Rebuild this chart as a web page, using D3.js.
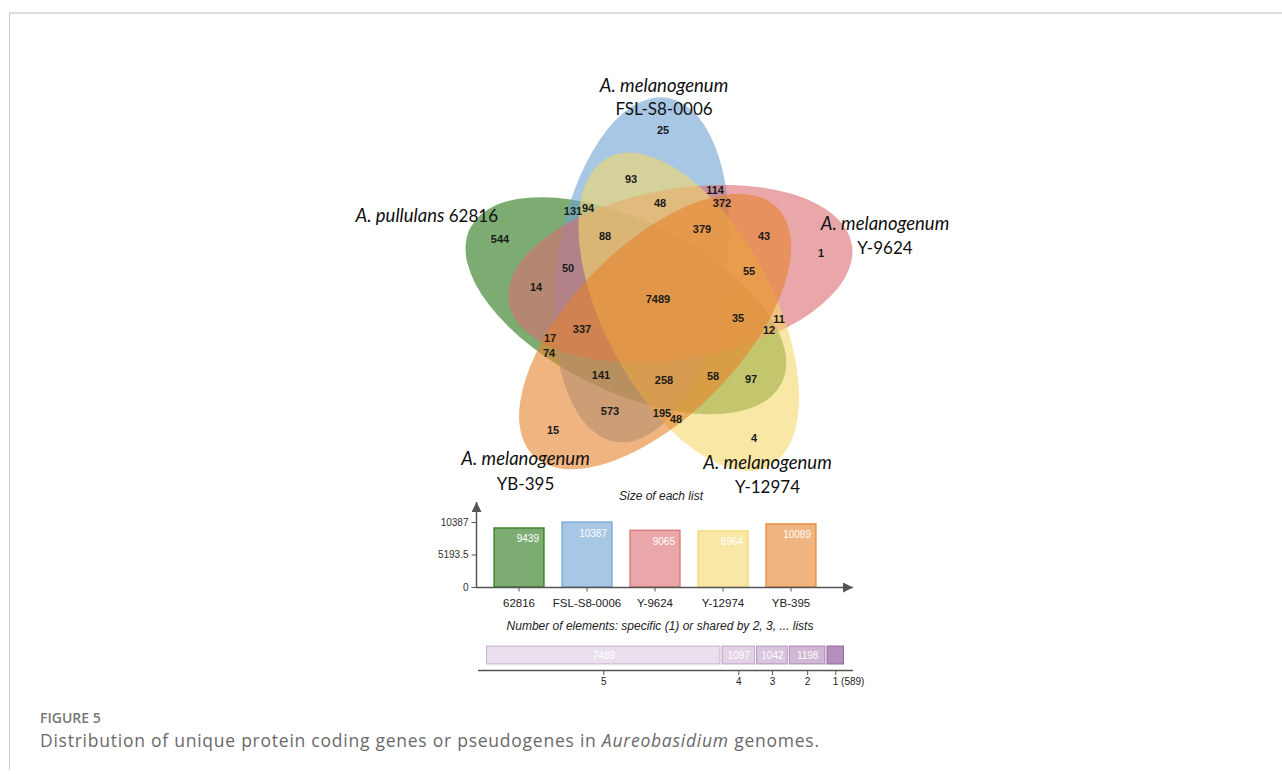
<!DOCTYPE html>
<html><head><meta charset="utf-8">
<script src="https://cdn.jsdelivr.net/npm/d3@7"></script>
<style>body{margin:0;background:#fff;}svg{display:block;}</style></head><body>
<svg id="chart" width="1282" height="774"></svg>
<script>
// ---- data ----
const setNames = ["62816", "FSL-S8-0006", "Y-9624", "Y-12974", "YB-395"];
const setSpecies = ["A. pullulans", "A. melanogenum", "A. melanogenum", "A. melanogenum", "A. melanogenum"];
const listSizes = [9439, 10387, 9065, 8964, 10089];
// membership code per region: one digit per list, in setNames order
const regionSets = ["10000","01000","00100","00010","00001",
  "11000","01100","00110","00011","10001","10100","01010","00101","10010","01001",
  "11100","01110","00111","10011","11001","11010","01101","10110","01011","10101",
  "11110","01111","10111","11011","11101","11111"];
const regionCounts = [544, 25, 1, 4, 15,
  131, 114, 11, 48, 74, 14, 93, 43, 97, 573,
  50, 48, 55, 58, 141, 94, 372, 12, 195, 17,
  88, 379, 35, 258, 337, 7489];
const sharedLevels = ["5", "4", "3", "2", "1"];
const sharedCounts = [7489, 1097, 1042, 1198, 589];

// ---- styles / layout ----
const colors = ["rgb(38,117,22)", "rgb(110,162,210)", "rgb(218,108,113)", "rgb(243,215,105)", "rgb(230,130,43)"];
const purple = "rgb(150,95,160)";
const levelOpacity = [0.2, 0.28, 0.36, 0.45, 0.7];
const venn = {cx: 658.3, cy: 298.5, a: 174, b: 85, rot0: 26.4, off: 33.2, offAng: 167.5, fill: 0.6};
const titleLayout = [
  {x: 498, y: [222], anchor: "end", oneLine: true},
  {x: 664, y: [92, 115], anchor: "middle"},
  {x: 885, y: [230, 254], anchor: "middle"},
  {x: 767.5, y: [469, 493], anchor: "middle"},
  {x: 525.5, y: [465, 490], anchor: "middle"}
];
const sans = "'Liberation Sans', Arial, sans-serif";

const svg = d3.select("#chart");
const deg = Math.PI / 180;

// page frame
svg.append("rect").attr("x", 9).attr("y", 12).attr("width", 1273).attr("height", 2).attr("fill", "#dedede");
svg.append("rect").attr("x", 9).attr("y", 13).attr("width", 1).attr("height", 757).attr("fill", "#cfcfcf");

// ---- five-ellipse Venn ----
const ellipses = setNames.map((name, k) => {
  const th = venn.rot0 + 72 * k, ph = (venn.offAng + 72 * k) * deg;
  return {k, name, th, cx: venn.cx + venn.off * Math.cos(ph), cy: venn.cy + venn.off * Math.sin(ph)};
});
svg.append("g").selectAll("ellipse").data(ellipses).join("ellipse")
  .attr("rx", venn.a).attr("ry", venn.b)
  .attr("transform", d => `translate(${d.cx},${d.cy}) rotate(${d.th})`)
  .attr("fill", (d, i) => colors[i]).attr("fill-opacity", venn.fill);

function inside(e, x, y) {
  const dx = x - e.cx, dy = y - e.cy, t = e.th * deg;
  const u = dx * Math.cos(t) + dy * Math.sin(t), v = -dx * Math.sin(t) + dy * Math.cos(t);
  return (u / venn.a) ** 2 + (v / venn.b) ** 2 <= 1;
}

// label spot for each region: rasterise the diagram, run a distance transform,
// then take the well-inset point closest to the region's centroid
const X0 = 430, Y0 = 70, GW = 460, GH = 420;
const lab = new Int32Array(GW * GH);
for (let j = 0; j < GH; j++) for (let i = 0; i < GW; i++) {
  let m = 0;
  ellipses.forEach((e, k) => { if (inside(e, X0 + i, Y0 + j)) m |= 1 << k; });
  lab[j * GW + i] = m;
}
const dist = new Float32Array(GW * GH).fill(1e9);
for (let j = 0; j < GH; j++) for (let i = 0; i < GW; i++) {
  const p = j * GW + i, l = lab[p];
  if (i == 0 || j == 0 || i == GW - 1 || j == GH - 1 || lab[p - 1] != l || lab[p + 1] != l || lab[p - GW] != l || lab[p + GW] != l) dist[p] = 0;
}
const s2 = Math.SQRT2;
for (let j = 1; j < GH; j++) for (let i = 1; i < GW - 1; i++) { const p = j * GW + i; dist[p] = Math.min(dist[p], dist[p - 1] + 1, dist[p - GW] + 1, dist[p - GW - 1] + s2, dist[p - GW + 1] + s2); }
for (let j = GH - 2; j >= 0; j--) for (let i = GW - 2; i > 0; i--) { const p = j * GW + i; dist[p] = Math.min(dist[p], dist[p + 1] + 1, dist[p + GW] + 1, dist[p + GW + 1] + s2, dist[p + GW - 1] + s2); }
const stats = {};
for (let p = 0; p < GW * GH; p++) {
  const l = lab[p]; if (!l) continue;
  const s = stats[l] || (stats[l] = {n: 0, sx: 0, sy: 0, maxD: 0});
  s.n++; s.sx += X0 + p % GW; s.sy += Y0 + Math.floor(p / GW);
  if (dist[p] > s.maxD) s.maxD = dist[p];
}
const spot = {};
for (let p = 0; p < GW * GH; p++) {
  const l = lab[p]; if (!l) continue;
  const s = stats[l], x = X0 + p % GW, y = Y0 + Math.floor(p / GW);
  const inset = s.maxD > 28 ? 0.97 : 0.5;   // wide regions: stay at the deepest point
  if (dist[p] < inset * s.maxD) continue;
  const d2 = (x - s.sx / s.n) ** 2 + (y - s.sy / s.n) ** 2;
  if (!spot[l] || d2 < spot[l].d2) spot[l] = {x, y, d2};
}
const regions = regionSets.map((code, i) => {
  let bits = 0; for (let k = 0; k < 5; k++) if (code[k] == "1") bits |= 1 << k;
  return {code, value: regionCounts[i], x: spot[bits].x, y: spot[bits].y};
});
svg.append("g").selectAll("text").data(regions).join("text")
  .attr("x", d => d.x).attr("y", d => d.y + 4).attr("text-anchor", "middle")
  .style("font", `bold 11px ${sans}`).attr("fill", "#1a1a1a")
  .text(d => d.value);

// list titles
const titles = svg.append("g").style("font-family", "Lato, sans-serif").style("font-size", "17px").attr("fill", "#111");
titleLayout.forEach((t, k) => {
  if (t.oneLine) {
    const tx = titles.append("text").attr("x", t.x).attr("y", t.y[0]).attr("text-anchor", t.anchor);
    tx.append("tspan").style("font-style", "italic").style("font-size", "18.5px").text(setSpecies[k]);
    tx.append("tspan").text(" " + setNames[k]);
  } else {
    titles.append("text").attr("x", t.x).attr("y", t.y[0]).attr("text-anchor", t.anchor)
      .style("font-style", "italic").style("font-size", "18.5px").text(setSpecies[k]);
    titles.append("text").attr("x", t.x).attr("y", t.y[1]).attr("text-anchor", t.anchor).text(setNames[k]);
  }
});

// ---- size of each list ----
const axisColor = "#555";
svg.append("defs").append("marker").attr("id", "arrow").attr("viewBox", "0 0 10 10").attr("refX", 10).attr("refY", 5)
  .attr("markerWidth", 10).attr("markerHeight", 10).attr("markerUnits", "userSpaceOnUse").attr("orient", "auto")
  .append("path").attr("d", "M0,0L10,5L0,10Z").attr("fill", axisColor);

const x = d3.scaleBand().domain(setNames).range([476, 834]).paddingInner(0.265).paddingOuter(0.265);
const yMax = d3.max(listSizes);
const y = d3.scaleLinear().domain([0, yMax]).range([587, 522]);
const bars = svg.append("g");
bars.append("text").attr("x", 661).attr("y", 500).attr("text-anchor", "middle")
  .style("font", `italic 12px ${sans}`).attr("fill", "#222").text("Size of each list");
bars.selectAll("rect").data(setNames).join("rect")
  .attr("x", d => x(d)).attr("width", x.bandwidth())
  .attr("y", (d, i) => y(listSizes[i])).attr("height", (d, i) => y(0) - y(listSizes[i]))
  .attr("fill", (d, i) => colors[i]).attr("fill-opacity", 0.6)
  .attr("stroke", (d, i) => colors[i]).attr("stroke-opacity", 0.8).attr("stroke-width", 1.5);
bars.selectAll("text.val").data(setNames).join("text").attr("class", "val")
  .attr("x", d => x(d) + x.bandwidth() - 5).attr("y", (d, i) => y(listSizes[i]) + 14.5)
  .attr("text-anchor", "end").style("font", `10px ${sans}`).attr("fill", "#fff")
  .text((d, i) => listSizes[i]);
const yAxis = bars.append("g").attr("transform", "translate(476.5,0)")
  .call(d3.axisLeft(y).tickValues([0, yMax / 2, yMax]).tickSize(5).tickPadding(3).tickFormat(d => String(d)));
yAxis.select(".domain").remove();
yAxis.selectAll("line").attr("stroke", axisColor);
yAxis.selectAll("text").style("font", `10px ${sans}`).attr("fill", "#333");
const xAxis = bars.append("g").attr("transform", "translate(0,587.5)")
  .call(d3.axisBottom(x).tickSize(4).tickPadding(7));
xAxis.select(".domain").remove();
xAxis.selectAll("line").attr("stroke", axisColor);
xAxis.selectAll("text").style("font", `11.5px ${sans}`).attr("fill", "#222");
bars.append("line").attr("x1", 476.5).attr("x2", 476.5).attr("y1", 588).attr("y2", 502)
  .attr("stroke", axisColor).attr("stroke-width", 1.5).attr("marker-end", "url(#arrow)");
bars.append("line").attr("x1", 476).attr("x2", 853).attr("y1", 587.5).attr("y2", 587.5)
  .attr("stroke", axisColor).attr("stroke-width", 1.5).attr("marker-end", "url(#arrow)");

// ---- elements shared by n lists ----
const total = d3.sum(sharedCounts);
const starts = d3.cumsum([0].concat(sharedCounts.slice(0, -1)));
const sx = d3.scaleLinear().domain([0, total]).range([486, 845]);
const shared = svg.append("g");
shared.append("text").attr("x", 660).attr("y", 630).attr("text-anchor", "middle")
  .style("font", `italic 12px ${sans}`).attr("fill", "#222")
  .text("Number of elements: specific (1) or shared by 2, 3, ... lists");
const segs = sharedCounts.map((v, i) => ({level: sharedLevels[i], value: v, x0: sx(starts[i]), x1: sx(starts[i] + v), op: levelOpacity[i]}));
shared.selectAll("rect").data(segs).join("rect")
  .attr("x", d => d.x0 + 0.5).attr("width", d => d.x1 - d.x0 - 2).attr("y", 646).attr("height", 18)
  .attr("fill", purple).attr("fill-opacity", d => d.op)
  .attr("stroke", purple).attr("stroke-opacity", d => Math.min(1, d.op + 0.22)).attr("stroke-width", 1);
shared.selectAll("text.val").data(segs.slice(0, -1)).join("text").attr("class", "val")
  .attr("x", d => (d.x0 + d.x1) / 2).attr("y", 659).attr("text-anchor", "middle")
  .style("font", `10px ${sans}`).attr("fill", "#fff").text(d => d.value);
shared.append("line").attr("x1", 478).attr("x2", 853).attr("y1", 670.5).attr("y2", 670.5).attr("stroke", axisColor).attr("stroke-width", 1.5);
shared.selectAll("line.tick").data(segs).join("line").attr("class", "tick")
  .attr("x1", d => (d.x0 + d.x1) / 2).attr("x2", d => (d.x0 + d.x1) / 2).attr("y1", 671).attr("y2", 675).attr("stroke", axisColor);
const lastSeg = segs.length - 1;
shared.selectAll("text.lvl").data(segs).join("text").attr("class", "lvl")
  .attr("x", (d, i) => i == lastSeg ? (d.x0 + d.x1) / 2 - 3 : (d.x0 + d.x1) / 2).attr("y", 685)
  .attr("text-anchor", (d, i) => i == lastSeg ? "start" : "middle")
  .style("font", `10px ${sans}`).attr("fill", "#222")
  .text((d, i) => i == lastSeg ? `${d.level} (${d.value})` : d.level);

// ---- caption ----
svg.append("text").attr("x", 40).attr("y", 723).style("font", "600 14px 'Open Sans', sans-serif").attr("fill", "#777").text("FIGURE 5");
const cap = svg.append("text").attr("x", 40).attr("y", 747).style("font", "17.5px 'Open Sans', sans-serif").attr("fill", "#6a6a6a");
cap.append("tspan").text("Distribution of unique protein coding genes or pseudogenes in ");
cap.append("tspan").style("font-style", "italic").text("Aureobasidium");
cap.append("tspan").text(" genomes.");
// spread the caption to the text column width
const capText = cap.text(), capLen = cap.node().getComputedTextLength();
cap.style("letter-spacing", `${Math.max(0, (779 - capLen) / (capText.length - 1))}px`);
</script></body></html>
